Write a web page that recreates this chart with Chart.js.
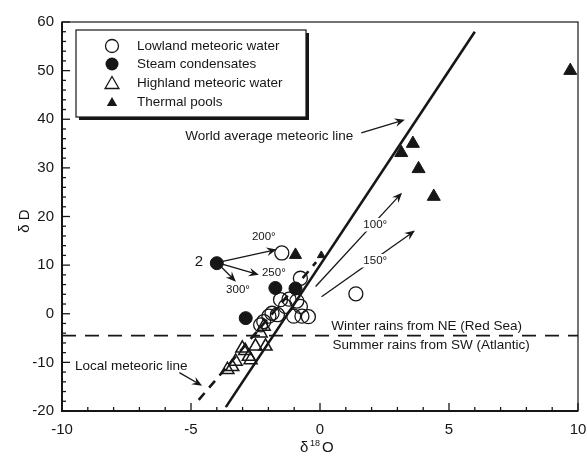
<!DOCTYPE html>
<html>
<head>
<meta charset="utf-8">
<script src="https://cdn.jsdelivr.net/npm/chart.js@4.4.1/dist/chart.umd.min.js"></script>
<style>
  html, body { margin: 0; padding: 0; background: #fff; }
</style>
</head>
<body>
<canvas id="chart" width="587" height="456"></canvas>
<script>
// values (delta 18O, delta D)
const lowlandX = [-1.48, 1.39, -0.76, -1.53, -1.34, -0.76, -1.02, -0.70, -0.45, -1.98, -2.18, -1.86, -1.20, -0.90, -2.30, -1.65];
const lowlandY = [12.5, 4.1, 7.3, 2.9, 1.5, 1.5, -0.5, -0.5, -0.6, -0.5, -1.6, 0.1, 3.0, 2.6, -2.3, -0.2];
const steamX = [-4.0, -1.73, -2.88, -0.95];
const steamY = [10.4, 5.3, -0.9, 5.2];
const highlandX = [-3.59, -3.40, -3.27, -3.01, -2.76, -2.69, -2.50, -2.11, -2.30, -2.18, -2.90];
const highlandY = [-11.5, -10.9, -9.8, -7.1, -8.8, -9.5, -6.7, -6.7, -4.0, -2.6, -7.6];
const thermalX = [9.7, 3.6, 3.15, 3.82, 4.41, -0.95, 0.05];
const thermalY = [50.0, 35.0, 33.1, 29.8, 24.1, 12.1, 12.0];

// reference lines
const worldLineX = [-3.65, 6.0];
const worldLineY = [-19.2, 58.0];
const localLineX = [-4.7, -0.15];
const localLineY = [-17.7, 10.6];
const rainsLineX = [-10, 10];
const rainsLineY = [-4.5, -4.5];

const xTicks = [-10, -5, 0, 5, 10];
const yTicks = [-20, -10, 0, 10, 20, 30, 40, 50, 60];

const legendLabels = ['Lowland meteoric water', 'Steam condensates', 'Highland meteoric water', 'Thermal pools'];

const toPoints = (xs, ys) => xs.map((x, i) => ({ x: x, y: ys[i] }));

const FONT = '"Liberation Sans", Arial, sans-serif';
const INK = '#161616';

// annotation arrows: [from, to] in data units
const arrows = [
  [[1.6, 37.2], [3.29, 39.9]],
  [[-5.45, -12.1], [-4.57, -14.8]],
  [[-3.99, 10.5], [-1.68, 13.2]],
  [[-3.99, 10.5], [-2.37, 8.0]],
  [[-3.99, 10.5], [-3.26, 6.6]],
  [[-0.17, 5.6], [3.18, 24.9]],
  [[0.06, 3.5], [3.68, 17.1]],
];

const notes = [
  { text: 'World average meteoric line', x: -5.22, y: 36.4, size: 13.5 },
  { text: 'Winter rains from NE (Red Sea)', x: 0.44, y: -2.5, size: 13.5 },
  { text: 'Summer rains from SW (Atlantic)', x: 0.48, y: -6.4, size: 13.5 },
  { text: 'Local meteoric line', x: -9.5, y: -10.9, size: 13.5 },
  { text: '2', x: -4.85, y: 10.7, size: 15 },
  { text: '200°', x: -2.64, y: 15.8, size: 11.5 },
  { text: '250°', x: -2.25, y: 8.4, size: 11.5 },
  { text: '300°', x: -3.64, y: 4.9, size: 11.5 },
  { text: '100°', x: 1.68, y: 18.3, size: 11.5, knockout: true },
  { text: '150°', x: 1.68, y: 10.9, size: 11.5, knockout: true },
];

function drawArrow(ctx, x1, y1, x2, y2) {
  const a = Math.atan2(y2 - y1, x2 - x1);
  const h = 11;
  ctx.beginPath();
  ctx.moveTo(x1, y1);
  ctx.lineTo(x2 - 4 * Math.cos(a), y2 - 4 * Math.sin(a));
  ctx.stroke();
  ctx.beginPath();
  ctx.moveTo(x2, y2);
  ctx.lineTo(x2 - h * Math.cos(a - 0.4), y2 - h * Math.sin(a - 0.4));
  ctx.lineTo(x2 - h * 0.6 * Math.cos(a), y2 - h * 0.6 * Math.sin(a));
  ctx.lineTo(x2 - h * Math.cos(a + 0.4), y2 - h * Math.sin(a + 0.4));
  ctx.closePath();
  ctx.fill();
}

function triangle(ctx, x, y, r) {
  ctx.beginPath();
  ctx.moveTo(x, y - r);
  ctx.lineTo(x + r * 0.866, y + r * 0.5);
  ctx.lineTo(x - r * 0.866, y + r * 0.5);
  ctx.closePath();
}

const decorPlugin = {
  id: 'decor',
  afterDatasetsDraw(chart) {
    const ctx = chart.ctx;
    const xs = chart.scales.x, ys = chart.scales.y;
    const a = chart.chartArea;
    ctx.save();
    ctx.strokeStyle = INK;
    ctx.fillStyle = INK;

    // frame
    ctx.lineWidth = 1.2;
    ctx.strokeRect(a.left, a.top, a.right - a.left, a.bottom - a.top);
    ctx.lineWidth = 2;
    ctx.beginPath();
    ctx.moveTo(a.left, a.top);
    ctx.lineTo(a.left, a.bottom);
    ctx.lineTo(a.right, a.bottom);
    ctx.stroke();

    // inward ticks
    ctx.lineWidth = 1.3;
    for (let v = -10; v <= 10; v += 1) {
      const p = xs.getPixelForValue(v);
      const len = v % 5 === 0 ? 8 : 4;
      ctx.beginPath();
      ctx.moveTo(p, a.bottom);
      ctx.lineTo(p, a.bottom - len);
      ctx.stroke();
    }
    for (let v = -20; v <= 60; v += 2) {
      const p = ys.getPixelForValue(v);
      const len = v % 10 === 0 ? 8 : 4;
      ctx.beginPath();
      ctx.moveTo(a.left, p);
      ctx.lineTo(a.left + len, p);
      ctx.stroke();
    }

    // arrows
    ctx.lineWidth = 1.3;
    arrows.forEach(([f, t]) => {
      drawArrow(ctx, xs.getPixelForValue(f[0]), ys.getPixelForValue(f[1]),
        xs.getPixelForValue(t[0]), ys.getPixelForValue(t[1]));
    });

    // text notes
    ctx.textBaseline = 'middle';
    ctx.textAlign = 'left';
    notes.forEach(n => {
      ctx.font = n.size + 'px ' + FONT;
      const x = xs.getPixelForValue(n.x), y = ys.getPixelForValue(n.y);
      if (n.knockout) {
        const w = ctx.measureText(n.text).width;
        ctx.fillStyle = '#fff';
        ctx.fillRect(x - 2, y - n.size / 2 - 1, w + 4, n.size + 2);
      }
      ctx.fillStyle = INK;
      ctx.fillText(n.text, x, y);
    });

    // legend box with drop shadow
    const L = 76, T = 30, W = 230, H = 87;
    ctx.fillStyle = INK;
    ctx.fillRect(L + 3, T + 3, W, H);
    ctx.fillStyle = '#fff';
    ctx.fillRect(L, T, W, H);
    ctx.lineWidth = 1.2;
    ctx.strokeStyle = INK;
    ctx.strokeRect(L, T, W, H);

    const rows = [46, 64, 83, 102];
    const mx = 112;
    ctx.lineWidth = 1.3;
    ctx.beginPath();
    ctx.arc(mx, rows[0], 6.5, 0, Math.PI * 2);
    ctx.stroke();
    ctx.fillStyle = INK;
    ctx.beginPath();
    ctx.arc(mx, rows[1], 6.5, 0, Math.PI * 2);
    ctx.fill();
    triangle(ctx, mx, rows[2] + 1.5, 8);
    ctx.stroke();
    triangle(ctx, mx, rows[3] + 1, 6);
    ctx.fill();

    ctx.font = '13.5px ' + FONT;
    legendLabels.forEach((t, i) => ctx.fillText(t, 137, rows[i]));

    // axis titles
    ctx.font = '15px ' + FONT;
    ctx.textAlign = 'center';
    ctx.save();
    ctx.translate(25, 221);
    ctx.rotate(-Math.PI / 2);
    ctx.fillText('δ D', 0, 0);
    ctx.restore();

    ctx.textAlign = 'left';
    ctx.fillText('δ', 300, 448);
    ctx.font = '9px ' + FONT;
    ctx.fillText('18', 310, 444);
    ctx.font = '15px ' + FONT;
    ctx.fillText('O', 322, 448);

    ctx.restore();
  }
};

const lineStyle = { showLine: true, pointRadius: 0, pointHoverRadius: 0, borderColor: INK, fill: false };

new Chart(document.getElementById('chart'), {
  type: 'scatter',
  data: {
    datasets: [
      { ...lineStyle, label: 'World', data: toPoints(worldLineX, worldLineY), borderWidth: 2.6 },
      { ...lineStyle, label: 'Local', data: toPoints(localLineX, localLineY), borderWidth: 2.6, borderDash: [9, 7] },
      { ...lineStyle, label: 'Rains', data: toPoints(rainsLineX, rainsLineY), borderWidth: 1.6, borderDash: [14, 9] },
      { label: legendLabels[0], data: toPoints(lowlandX, lowlandY), pointStyle: 'circle', pointRadius: 7,
        backgroundColor: 'rgba(255,255,255,0)', borderColor: INK, borderWidth: 1.3 },
      { label: legendLabels[1], data: toPoints(steamX, steamY), pointStyle: 'circle', pointRadius: 6.5,
        backgroundColor: INK, borderColor: INK, borderWidth: 1 },
      { label: legendLabels[2], data: toPoints(highlandX, highlandY), pointStyle: 'triangle', pointRadius: 7.5,
        backgroundColor: 'rgba(255,255,255,0)', borderColor: INK, borderWidth: 1.5 },
      { label: legendLabels[3], data: toPoints(thermalX, thermalY), pointStyle: 'triangle',
        pointRadius: [7.5, 7.5, 7.5, 7.5, 7.5, 7, 4.5],
        backgroundColor: INK, borderColor: INK, borderWidth: 1 },
    ]
  },
  options: {
    responsive: false,
    animation: false,
    layout: { padding: { left: 0, right: 6, top: 22, bottom: 0 } },
    plugins: { legend: { display: false }, tooltip: { enabled: false } },
    scales: {
      x: {
        type: 'linear', min: -10, max: 10,
        afterBuildTicks: s => { s.ticks = xTicks.map(v => ({ value: v })); },
        grid: { display: false, drawTicks: false },
        border: { display: false },
        ticks: { padding: 10, color: INK, font: { family: FONT, size: 15 } },
        afterFit: s => { s.height = 45; s.paddingLeft = 0; s.paddingRight = 0; }
      },
      y: {
        type: 'linear', min: -20, max: 60,
        afterBuildTicks: s => { s.ticks = yTicks.map(v => ({ value: v })); },
        grid: { display: false, drawTicks: false },
        border: { display: false },
        ticks: { padding: 8, color: INK, font: { family: FONT, size: 15 } },
        afterFit: s => { s.width = 62; s.paddingTop = 0; s.paddingBottom = 0; }
      }
    }
  },
  plugins: [decorPlugin]
});
</script>
</body>
</html>
